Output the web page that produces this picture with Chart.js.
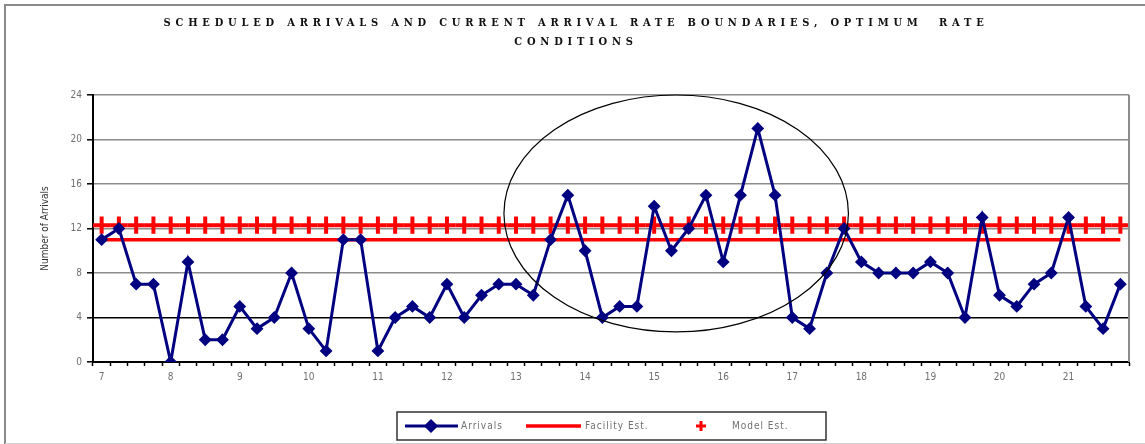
<!DOCTYPE html>
<html>
<head>
<meta charset="utf-8">
<script src="https://cdn.jsdelivr.net/npm/chart.js@4.4.1/dist/chart.umd.min.js"></script>
<style>
  html, body { margin: 0; padding: 0; background: #fff; }
  #wrap { width: 1145px; height: 444px; }
</style>
</head>
<body>
<div id="wrap"><canvas id="arrivalsChart" width="1145" height="444"></canvas></div>
<script>
// quarter-hour slots from 7:00 to 21:45
const slots = [
  "7:00", "7:15", "7:30", "7:45", "8:00", "8:15", "8:30", "8:45",
  "9:00", "9:15", "9:30", "9:45", "10:00", "10:15", "10:30", "10:45",
  "11:00", "11:15", "11:30", "11:45", "12:00", "12:15", "12:30", "12:45",
  "13:00", "13:15", "13:30", "13:45", "14:00", "14:15", "14:30", "14:45",
  "15:00", "15:15", "15:30", "15:45", "16:00", "16:15", "16:30", "16:45",
  "17:00", "17:15", "17:30", "17:45", "18:00", "18:15", "18:30", "18:45",
  "19:00", "19:15", "19:30", "19:45", "20:00", "20:15", "20:30", "20:45",
  "21:00", "21:15", "21:30", "21:45"
];
const hourTicks = ["7", "8", "9", "10", "11", "12", "13", "14", "15", "16", "17", "18", "19", "20", "21"];
const yTicks = [0, 4, 8, 12, 16, 20, 24];

const arrivals = [
  11, 12, 7, 7, 0, 9, 2, 2, 5, 3, 4, 8, 3, 1, 11, 11, 1, 4, 5, 4,
  7, 4, 6, 7, 7, 6, 11, 15, 10, 4, 5, 5, 14, 10, 12, 15, 9, 15, 21, 15,
  4, 3, 8, 12, 9, 8, 8, 8, 9, 8, 4, 13, 6, 5, 7, 8, 13, 5, 3, 7
];
const facilityEst = [
  11, 11, 11, 11, 11, 11, 11, 11, 11, 11, 11, 11, 11, 11, 11, 11, 11, 11, 11, 11,
  11, 11, 11, 11, 11, 11, 11, 11, 11, 11, 11, 11, 11, 11, 11, 11, 11, 11, 11, 11,
  11, 11, 11, 11, 11, 11, 11, 11, 11, 11, 11, 11, 11, 11, 11, 11, 11, 11, 11, 11
];
const modelEst = [
  12.3, 12.3, 12.3, 12.3, 12.3, 12.3, 12.3, 12.3, 12.3, 12.3, 12.3, 12.3, 12.3, 12.3, 12.3,
  12.3, 12.3, 12.3, 12.3, 12.3, 12.3, 12.3, 12.3, 12.3, 12.3, 12.3, 12.3, 12.3, 12.3, 12.3,
  12.3, 12.3, 12.3, 12.3, 12.3, 12.3, 12.3, 12.3, 12.3, 12.3, 12.3, 12.3, 12.3, 12.3, 12.3,
  12.3, 12.3, 12.3, 12.3, 12.3, 12.3, 12.3, 12.3, 12.3, 12.3, 12.3, 12.3, 12.3, 12.3, 12.3
];

const titleLines = [
  "SCHEDULED ARRIVALS AND CURRENT ARRIVAL RATE BOUNDARIES, OPTIMUM  RATE",
  "CONDITIONS"
];

// the busy afternoon stretch that gets circled (slot index / arrivals range)
const peakWindow = { fromSlot: 23.3, toSlot: 43.25, fromY: 2.7, toY: 24 };

const NAVY = "#000080";
const RED = "#ff0000";
const GREY_TEXT = "#707070";
const SANS = "'DejaVu Sans Condensed', 'DejaVu Sans', sans-serif";

// outer frame + spaced-out title
const frameAndTitle = {
  id: "frameAndTitle",
  beforeDraw(chart) {
    const ctx = chart.ctx;
    ctx.save();
    ctx.strokeStyle = "#8a8a8a";
    ctx.lineWidth = 2;
    ctx.beginPath();
    ctx.moveTo(5, 444);
    ctx.lineTo(5, 5);
    ctx.lineTo(1145, 5);
    ctx.stroke();
    ctx.strokeStyle = "#d0d0d0";
    ctx.lineWidth = 1;
    ctx.beginPath();
    ctx.moveTo(5, 443.5);
    ctx.lineTo(1145, 443.5);
    ctx.stroke();

    const cx = (chart.chartArea.left + chart.chartArea.right) / 2 - 35;
    ctx.fillStyle = "#111";
    ctx.font = "bold 11px 'DejaVu Serif Condensed', 'DejaVu Serif', serif";
    ctx.letterSpacing = "4.8px";
    ctx.textAlign = "center";
    ctx.textBaseline = "middle";
    ctx.fillText(titleLines[0], cx, 23);
    ctx.fillText(titleLines[1], cx, 42);
    ctx.restore();
  }
};

// plot-area right edge, circled region, boxed legend
const overlays = {
  id: "overlays",
  afterDatasetsDraw(chart) {
    const { ctx, chartArea: area, scales: { x, y } } = chart;
    ctx.save();
    ctx.strokeStyle = "#8c8c8c";
    ctx.lineWidth = 2;
    ctx.beginPath();
    ctx.moveTo(area.right, area.top);
    ctx.lineTo(area.right, area.bottom);
    ctx.stroke();

    const x0 = x.getPixelForValue(peakWindow.fromSlot);
    const x1 = x.getPixelForValue(peakWindow.toSlot);
    const y0 = y.getPixelForValue(peakWindow.toY);
    const y1 = y.getPixelForValue(peakWindow.fromY);
    ctx.strokeStyle = "#000";
    ctx.lineWidth = 1.2;
    ctx.beginPath();
    ctx.ellipse((x0 + x1) / 2, (y0 + y1) / 2, (x1 - x0) / 2, (y1 - y0) / 2, 0, 0, Math.PI * 2);
    ctx.stroke();
    ctx.restore();
  },
  afterDraw(chart) {
    const ctx = chart.ctx;
    const ds = chart.data.datasets;
    const boxW = 429, boxH = 28;
    const left = Math.round((chart.chartArea.left + chart.chartArea.right) / 2 - boxW / 2);
    const top = 412;
    const midY = top + boxH / 2;
    ctx.save();
    ctx.fillStyle = "#fff";
    ctx.fillRect(left, top, boxW, boxH);
    ctx.strokeStyle = "#333";
    ctx.lineWidth = 1.5;
    ctx.strokeRect(left, top, boxW, boxH);

    ctx.font = "10px " + SANS;
    ctx.letterSpacing = "1px";
    ctx.fillStyle = GREY_TEXT;
    ctx.textBaseline = "middle";

    // Arrivals: line with diamond
    ctx.strokeStyle = ds[0].borderColor;
    ctx.lineWidth = 3;
    ctx.beginPath();
    ctx.moveTo(left + 8, midY);
    ctx.lineTo(left + 61, midY);
    ctx.stroke();
    Chart.helpers.drawPoint(ctx, {
      pointStyle: "rectRot", radius: 5, borderWidth: 2, rotation: 0
    }, left + 34, midY);
    ctx.fillStyle = ds[0].pointBackgroundColor;
    ctx.fill();
    ctx.fillStyle = GREY_TEXT;
    ctx.fillText(ds[0].label, left + 64, midY);

    // Facility Est.: plain line
    ctx.strokeStyle = ds[1].borderColor;
    ctx.lineWidth = 3.5;
    ctx.beginPath();
    ctx.moveTo(left + 129, midY);
    ctx.lineTo(left + 184, midY);
    ctx.stroke();
    ctx.fillText(ds[1].label, left + 188, midY);

    // Model Est.: plus marker only
    ctx.strokeStyle = ds[2].pointBorderColor;
    ctx.lineWidth = 3;
    ctx.beginPath();
    ctx.moveTo(left + 299, midY);
    ctx.lineTo(left + 309, midY);
    ctx.moveTo(left + 304, midY - 5);
    ctx.lineTo(left + 304, midY + 5);
    ctx.stroke();
    ctx.fillText(ds[2].label, left + 335, midY);
    ctx.restore();
  }
};

new Chart(document.getElementById("arrivalsChart"), {
  type: "line",
  data: {
    labels: slots,
    datasets: [
      {
        label: "Arrivals",
        data: arrivals,
        borderColor: NAVY,
        borderWidth: 3,
        pointStyle: "rectRot",
        pointRadius: 5,
        pointBorderWidth: 2,
        pointBackgroundColor: NAVY,
        pointBorderColor: NAVY,
        tension: 0
      },
      {
        label: "Facility Est.",
        data: facilityEst,
        borderColor: RED,
        borderWidth: 3.5,
        pointRadius: 0,
        tension: 0
      },
      {
        label: "Model Est.",
        data: modelEst,
        showLine: false,
        pointStyle: "cross",
        pointRadius: 8.7,
        pointBorderWidth: 4,
        pointBorderColor: RED,
        pointBackgroundColor: RED
      }
    ]
  },
  options: {
    responsive: false,
    animation: false,
    layout: { padding: { top: 95, right: 16, bottom: 52, left: 0 } },
    plugins: {
      legend: { display: false },
      title: { display: false },
      tooltip: { enabled: false }
    },
    scales: {
      x: {
        type: "category",
        offset: true,
        afterFit(scale) { scale.height = 30; },
        grid: {
          offset: true,
          drawOnChartArea: false,
          drawTicks: true,
          tickLength: 4,
          tickColor: "#000",
          tickWidth: 1.5
        },
        border: { color: "#000", width: 2 },
        ticks: {
          autoSkip: false,
          maxRotation: 0,
          padding: 5,
          color: GREY_TEXT,
          font: { family: SANS, size: 10 },
          callback: (val, i) => (i % 4 === 0 ? hourTicks[i / 4] : "")
        }
      },
      y: {
        min: 0,
        max: 24,
        afterFit(scale) { scale.width = 93; },
        afterBuildTicks(scale) { scale.ticks = yTicks.map(v => ({ value: v })); },
        grid: {
          color: ctx => (ctx.tick && ctx.tick.value === 4 ? "#000" : "#8c8c8c"),
          lineWidth: 1.6,
          tickLength: 6,
          tickColor: "#000",
          tickWidth: 1.5
        },
        border: { color: "#000", width: 2 },
        ticks: {
          padding: 5,
          color: GREY_TEXT,
          font: { family: SANS, size: 10 }
        },
        title: {
          display: true,
          text: "Number of Arrivals",
          color: "#333",
          font: { family: SANS, size: 10 },
          padding: { top: 39, bottom: 0 }
        }
      }
    }
  },
  plugins: [frameAndTitle, overlays]
});
</script>
</body>
</html>
